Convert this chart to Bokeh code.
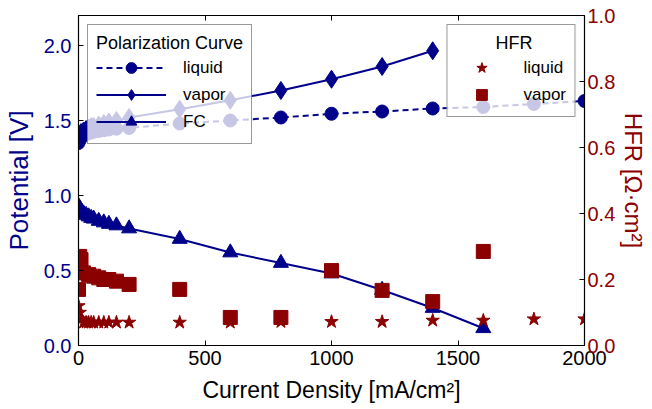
from bokeh.plotting import figure
from bokeh.models import Range1d, LinearAxis, Legend, LegendItem, FixedTicker, PrintfTickFormatter
from bokeh.embed import file_html
from bokeh.resources import INLINE

# ---- data ----
liq_x = [0, 5, 10, 20, 30, 40, 50, 60, 80, 100, 120, 150, 200, 400, 600, 800, 1000, 1200, 1400, 1600, 1800, 2000]
liq_v = [1.35, 1.37, 1.39, 1.40, 1.41, 1.415, 1.42, 1.425, 1.43, 1.435, 1.44, 1.445, 1.45, 1.48, 1.50, 1.52, 1.545, 1.56, 1.58, 1.59, 1.61, 1.63]

vap_x = [0, 5, 10, 20, 30, 40, 50, 60, 80, 100, 120, 150, 200, 400, 600, 800, 1000, 1200, 1400]
vap_v = [1.37, 1.40, 1.42, 1.43, 1.44, 1.45, 1.46, 1.46, 1.47, 1.48, 1.49, 1.50, 1.52, 1.575, 1.635, 1.70, 1.775, 1.86, 1.965]

fc_x = [0, 5, 10, 20, 30, 40, 50, 60, 80, 100, 120, 150, 200, 400, 600, 800, 1000, 1200, 1400, 1600]
fc_v = [0.93, 0.91, 0.90, 0.88, 0.87, 0.86, 0.85, 0.845, 0.83, 0.82, 0.81, 0.80, 0.78, 0.71, 0.62, 0.55, 0.48, 0.37, 0.25, 0.115]

hfr_liq_x = [0, 5, 10, 20, 30, 40, 50, 60, 80, 100, 120, 150, 200, 400, 600, 800, 1000, 1200, 1400, 1600, 1800, 2000]
hfr_liq = [0.12, 0.10, 0.08, 0.07, 0.07, 0.07, 0.07, 0.07, 0.07, 0.07, 0.07, 0.07, 0.07, 0.07, 0.07, 0.072, 0.072, 0.072, 0.076, 0.076, 0.08, 0.08]

hfr_vap_x = [0, 5, 10, 20, 40, 60, 80, 100, 120, 150, 200, 400, 600, 800, 1000, 1200, 1400, 1600]
hfr_vap = [0.17, 0.27, 0.26, 0.22, 0.215, 0.21, 0.205, 0.20, 0.20, 0.195, 0.185, 0.17, 0.085, 0.085, 0.227, 0.167, 0.133, 0.285]

x_ticks = [0, 500, 1000, 1500, 2000]
v_ticks = [0.0, 0.5, 1.0, 1.5, 2.0]
hfr_ticks = [0.0, 0.2, 0.4, 0.6, 0.8, 1.0]

BLUE = "#00008B"
RED = "#8B0000"
FONT = "Liberation Sans"

p = figure(width=652, height=409, x_range=Range1d(0, 2000), y_range=Range1d(0, 2.2),
           output_backend="svg", toolbar_location=None,
           min_border_left=77, min_border_right=68, min_border_top=15, min_border_bottom=64)
p.extra_y_ranges = {"hfr": Range1d(0, 1)}
p.grid.visible = False
p.outline_line_color = "black"
p.outline_line_width = 1.2
p.background_fill_color = "white"
p.border_fill_color = "white"


def style(ax, color):
    ax.major_tick_in = 5
    ax.major_tick_out = 0
    ax.minor_tick_in = 0
    ax.minor_tick_out = 0
    ax.axis_line_color = "black"
    ax.major_tick_line_color = "black"
    ax.major_label_text_font = FONT
    ax.major_label_text_font_size = "20px"
    ax.major_label_text_color = color
    ax.axis_label_text_font = FONT
    ax.axis_label_text_font_size = "23px"
    ax.axis_label_text_font_style = "normal"
    ax.axis_label_text_color = color
    ax.major_label_standoff = 5


xa = p.xaxis[0]
style(xa, "black")
xa.ticker = FixedTicker(ticks=x_ticks)
xa.axis_label = "Current Density [mA/cm²]"
xa.axis_label_standoff = 9

ya = p.yaxis[0]
style(ya, BLUE)
ya.ticker = FixedTicker(ticks=v_ticks)
ya.formatter = PrintfTickFormatter(format="%.1f")
ya.axis_label = "Potential [V]"
ya.axis_label_text_font_size = "26px"
ya.major_label_standoff = 7
ya.axis_label_standoff = 7

ra = LinearAxis(y_range_name="hfr", ticker=FixedTicker(ticks=hfr_ticks),
                formatter=PrintfTickFormatter(format="%.1f"))
style(ra, RED)
ra.axis_label = "HFR [Ω·cm²]"
ra.axis_label_text_font_size = "24px"
ra.major_label_standoff = 3
ra.axis_label_standoff = 2
p.add_layout(ra, "right")

ta = LinearAxis(ticker=FixedTicker(ticks=x_ticks))
style(ta, "black")
ta.major_label_overrides = {t: "" for t in x_ticks}
ta.major_label_standoff = 0
p.add_layout(ta, "above")

# polarization curves
l_liq = p.line(liq_x, liq_v, line_color=BLUE, line_width=2, line_dash="6 4")
s_liq = p.scatter(liq_x, liq_v, marker="circle", size=13, fill_color=BLUE, line_color=BLUE)
l_vap = p.line(vap_x, vap_v, line_color=BLUE, line_width=2)
s_vap = p.scatter(vap_x, vap_v, marker="diamond", size=18, fill_color=BLUE, line_color=BLUE)
l_fc = p.line(fc_x, fc_v, line_color=BLUE, line_width=2)
s_fc = p.scatter(fc_x, fc_v, marker="triangle", size=15, fill_color=BLUE, line_color=BLUE)

# HFR
s_hl = p.scatter(hfr_liq_x, hfr_liq, marker="star", size=14, fill_color=RED, line_color=RED, y_range_name="hfr")
s_hv = p.scatter(hfr_vap_x, hfr_vap, marker="square", size=14, fill_color=RED, line_color=RED, y_range_name="hfr")


def style_legend(lg):
    lg.background_fill_color = "white"
    lg.background_fill_alpha = 0.78
    lg.border_line_color = "#333333"
    lg.border_line_width = 1.5
    lg.label_text_font = FONT
    lg.label_text_font_size = "17px"
    lg.label_text_color = "black"
    lg.title_text_font = FONT
    lg.title_text_font_size = "18px"
    lg.title_text_font_style = "normal"
    lg.title_text_color = "black"
    lg.glyph_height = 27
    lg.label_height = 20
    lg.spacing = 0
    lg.padding = 8
    lg.title_standoff = -3


leg1 = Legend(items=[LegendItem(label="liquid", renderers=[l_liq, s_liq]),
                     LegendItem(label="vapor", renderers=[l_vap, s_vap]),
                     LegendItem(label="FC", renderers=[l_fc, s_fc])],
              location="top_left", title="Polarization Curve")
style_legend(leg1)
leg1.glyph_width = 70
leg1.label_standoff = 17
leg1.margin = 9
p.add_layout(leg1)

leg2 = Legend(items=[LegendItem(label="liquid", renderers=[s_hl]),
                     LegendItem(label="vapor", renderers=[s_hv])],
              location="top_right", title="\u00a0" * 8 + "HFR")
style_legend(leg2)
leg2.glyph_width = 52
leg2.label_standoff = 16
leg2.margin = 9
p.add_layout(leg2)

open("out.html", "w").write(file_html(p, INLINE))
